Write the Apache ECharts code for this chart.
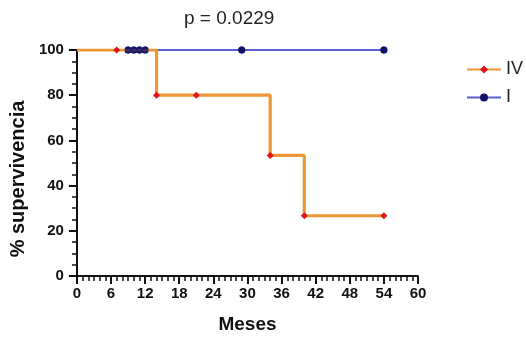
<!DOCTYPE html>
<html>
<head>
<meta charset="utf-8">
<script src="https://cdn.jsdelivr.net/npm/echarts@6/dist/echarts.min.js"></script>
<style>
  html, body { margin: 0; padding: 0; background: #fff; }
  #chart { width: 526px; height: 339px; }
</style>
</head>
<body>
<div id="chart"></div>
<script>
// Kaplan-Meier curves, group IV and group I
const ivTime = [0, 7, 14, 21, 34, 40, 54];
const ivSurv = [100, 100, 80, 80, 53.33, 26.67, 26.67];
const iTime = [0, 9, 10, 11, 12, 29, 54];
const iSurv = [100, 100, 100, 100, 100, 100, 100];
const xTicks = [0, 6, 12, 18, 24, 30, 36, 42, 48, 54, 60];
const yTicks = [0, 20, 40, 60, 80, 100];

const font = "Liberation Sans, Arial, sans-serif";

const toPoints = (xs, ys) => xs.map((x, i) => ({
    value: [x, ys[i]],
    symbol: i === 0 ? "none" : undefined,
}));

const chart = echarts.init(document.getElementById("chart"));

const axisCommon = {
    axisLine: { lineStyle: { color: "#111", width: 2 } },
    axisTick: { length: 8, lineStyle: { color: "#111", width: 2 } },
    minorTick: { show: true, length: 5, lineStyle: { color: "#111", width: 1.5 } },
    splitLine: { show: false },
    axisLabel: { color: "#111", fontFamily: font, fontWeight: "bold", fontSize: 15 },
    nameTextStyle: { color: "#111", fontFamily: font, fontWeight: "bold", fontSize: 19 },
};

const option = {
    animation: false,
    title: {
        text: "p = 0.0229",
        left: 179,
        top: 4,
        textStyle: { color: "#222", fontFamily: font, fontWeight: "normal", fontSize: 19 },
    },
    legend: {
        orient: "vertical",
        left: 461,
        top: 55,
        itemWidth: 34,
        itemHeight: 10,
        itemGap: 9,
        data: ["IV", "I"],
        textStyle: { color: "#222", fontFamily: font, fontSize: 18, lineHeight: 19 },
    },
    grid: { left: 76, right: 108, top: 50, bottom: 61 },
    xAxis: {
        ...axisCommon,
        type: "value",
        min: xTicks[0],
        max: xTicks[xTicks.length - 1],
        interval: 6,
        minorTick: { ...axisCommon.minorTick, splitNumber: 6 },
        axisLabel: { ...axisCommon.axisLabel, margin: 10 },
        name: "Meses",
        nameLocation: "middle",
        nameGap: 39,
    },
    yAxis: {
        ...axisCommon,
        type: "value",
        min: yTicks[0],
        max: yTicks[yTicks.length - 1],
        interval: 20,
        minorTick: { ...axisCommon.minorTick, splitNumber: 4 },
        axisLabel: { ...axisCommon.axisLabel, margin: 13 },
        name: "% supervivencia",
        nameLocation: "middle",
        nameGap: 47,
        nameTextStyle: { ...axisCommon.nameTextStyle, fontSize: 20, padding: [0, 32, 0, 0] },
    },
    series: [
        {
            name: "I",
            type: "line",
            step: "end",
            z: 1,
            data: toPoints(iTime, iSurv),
            lineStyle: { color: "#5a60cf", width: 2.2 },
            symbol: "circle",
            symbolSize: 7,
            itemStyle: { color: "#12126a" },
        },
        {
            name: "IV",
            type: "line",
            step: "end",
            z: 2,
            data: toPoints(ivTime, ivSurv),
            lineStyle: { color: "#ef9634", width: 3.2 },
            symbol: "diamond",
            symbolSize: 7,
            itemStyle: { color: "#e0141c" },
        },
        {
            name: "I",
            type: "scatter",
            z: 3,
            data: toPoints(iTime, iSurv),
            symbol: "circle",
            symbolSize: 7,
            itemStyle: { color: "#12126a" },
        },
    ],
};

chart.setOption(option);
</script>
</body>
</html>
